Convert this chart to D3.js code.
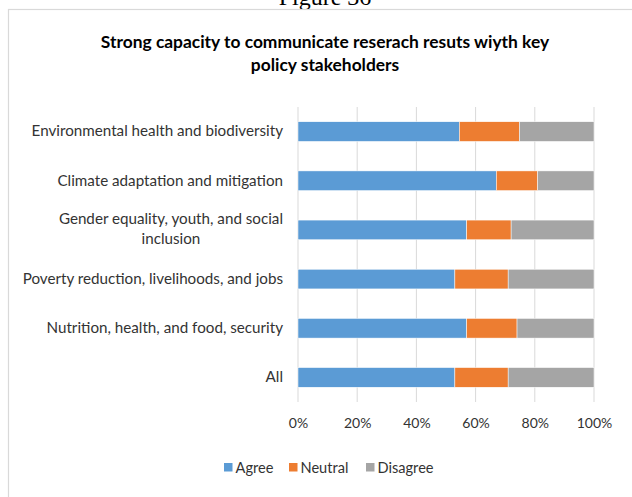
<!DOCTYPE html>
<html><head><meta charset="utf-8">
<script src="https://cdn.jsdelivr.net/npm/d3@7"></script>
<style>
body{margin:0;background:#fff;}
svg{display:block;}
text{font-family:Lato,"Open Sans",sans-serif;}
</style></head>
<body>
<svg id="chart" width="632" height="497"></svg>
<script>
const categories = [
  "Environmental health and biodiversity",
  "Climate adaptation and mitigation",
  "Gender equality, youth, and social inclusion",
  "Poverty reduction, livelihoods, and jobs",
  "Nutrition, health, and food, security",
  "All"
];
const agree    = [54.5, 67, 57, 53, 57, 53];
const neutral  = [20.3, 14, 15, 18, 17, 18];
const disagree = [25.2, 19, 28, 29, 26, 29];
const seriesNames = ["Agree", "Neutral", "Disagree"];
const seriesColors = ["#5B9BD5", "#ED7D31", "#A5A5A5"];
const xTicks = [0, 20, 40, 60, 80, 100];
const titleLines = ["Strong capacity to communicate reserach resuts wiyth key", "policy stakeholders"];

const svg = d3.select("#chart");
const W = 632, H = 497;
const m = {left: 298, right: 38, top: 107, bottom: 95};
const labelFont = "15.2px";
const legendFont = "14.6px";

// page caption partially cut off
svg.append("text").attr("x", 325).attr("y", 5).attr("text-anchor", "middle")
  .style("font-family", "'Liberation Serif','Times New Roman',serif").style("font-size", "24px")
  .attr("fill", "#000").text("Figure 36");

// chart frame
svg.append("rect").attr("x", 8.5).attr("y", 9.5).attr("width", 640).attr("height", 500)
  .attr("fill", "#fff").attr("stroke", "#D9D9D9").attr("stroke-width", 1.2);

const x = d3.scaleLinear().domain([0, 100]).range([m.left, W - m.right]);
const y = d3.scaleBand().domain(categories).range([m.top, H - m.bottom]).paddingInner(0.6).paddingOuter(0.3);

// gridlines
svg.append("g").selectAll("line").data(xTicks).join("line")
  .attr("x1", d => x(d)).attr("x2", d => x(d))
  .attr("y1", m.top).attr("y2", H - m.bottom)
  .attr("stroke", "#D9D9D9").attr("stroke-width", 1);

// stacked data
const rows = categories.map((c, i) => ({cat: c, Agree: agree[i], Neutral: neutral[i], Disagree: disagree[i]}));
const stack = d3.stack().keys(seriesNames)(rows);
svg.append("g").selectAll("g").data(stack).join("g")
  .attr("fill", (d, i) => seriesColors[i])
  .selectAll("rect").data(d => d).join("rect")
  .attr("x", d => x(d[0])).attr("width", d => x(d[1]) - x(d[0]))
  .attr("y", d => y(d.data.cat)).attr("height", y.bandwidth())
  .attr("stroke", "#fff").attr("stroke-width", 0.5);

// x axis labels
const xAxis = d3.axisBottom(x).tickValues(xTicks).tickFormat(d => d + "%").tickSize(0).tickPadding(16);
const gx = svg.append("g").attr("transform", `translate(0,${H - m.bottom})`).call(xAxis);
gx.select(".domain").remove();
gx.selectAll("text").style("font-size", "14px").style("font-family", "Lato,sans-serif").attr("fill", "#333");

// y axis labels
const yAxis = d3.axisLeft(y).tickSize(0).tickPadding(15);
const gy = svg.append("g").attr("transform", `translate(${m.left},0)`).call(yAxis);
gy.select(".domain").remove();
gy.selectAll("text").style("font-size", labelFont).style("font-family", "Lato,sans-serif").attr("fill", "#333")
  .each(function(d) {
    if (d === "Gender equality, youth, and social inclusion") {
      const t = d3.select(this);
      t.text(null).attr("dy", null);
      const l1 = t.append("tspan").attr("x", -15).attr("y", -5.5).text("Gender equality, youth, and social");
      const w1 = l1.node().getComputedTextLength();
      t.append("tspan").attr("x", -15 - w1 / 2).attr("y", 13.8).attr("text-anchor", "middle").text("inclusion");
    }
  });

// title
svg.append("g").selectAll("text").data(titleLines).join("text")
  .attr("x", 325).attr("y", (d, i) => 47.5 + i * 23.5).attr("text-anchor", "middle")
  .style("font-size", "17.4px").style("font-weight", "bold").attr("fill", "#000").text(d => d);

// legend
const legendX = [224, 289, 366];
const lg = svg.append("g").selectAll("g").data(seriesNames).join("g")
  .attr("transform", (d, i) => `translate(${legendX[i]},463)`);
lg.append("rect").attr("width", 8.5).attr("height", 8.5).attr("fill", (d, i) => seriesColors[i]);
lg.append("text").attr("x", 11.5).attr("y", 9.5).style("font-size", legendFont).attr("fill", "#333").text(d => d);
</script>
</body></html>
